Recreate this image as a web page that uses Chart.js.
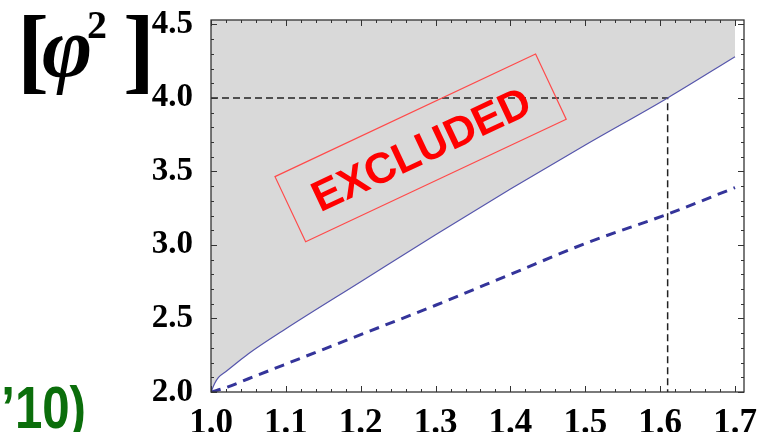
<!DOCTYPE html>
<html>
<head>
<meta charset="utf-8">
<script src="https://cdn.jsdelivr.net/npm/chart.js@4.4.1/dist/chart.umd.min.js"></script>
<style>
  body { margin: 0; background: #fff; }
  #wrap { width: 759px; height: 432px; }
</style>
</head>
<body>
<div id="wrap"><canvas id="chart" width="759" height="432"></canvas></div>
<script>
// boundary of the excluded region (solid line)
var bound_x = [1.0, 1.005, 1.01, 1.02, 1.03, 1.05, 1.1, 1.2, 1.3, 1.4, 1.5, 1.61, 1.7];
var bound_y = [2.0, 2.06, 2.10, 2.14, 2.18, 2.26, 2.43, 2.75, 3.07, 3.38, 3.68, 4.0, 4.28];

// dashed blue curve
var dash_x = [1.0, 1.02, 1.05, 1.1, 1.2, 1.3, 1.4, 1.5, 1.61, 1.7];
var dash_y = [2.0, 2.03, 2.09, 2.19, 2.39, 2.59, 2.80, 3.01, 3.21, 3.39];

// black dashed guide lines (x=1.61, phi^2=4)
var guide_x = [1.0, 1.61, 1.61];
var guide_y = [4.0, 4.0, 2.0];

var x_min = 1.0, x_max = 1.712;
var y_min = 2.0, y_max = 4.53;

// where the "EXCLUDED" stamp sits, in data units
var stamp_x = 1.28, stamp_y = 3.66;
var stamp_text = "EXCLUDED";

function toPoints(xs, ys){
	var pts = [];
	for (var i=0;i<xs.length;i++) {
		pts.push({x: xs[i], y: ys[i]});
	}
	return pts;
}

var serif = '"Liberation Serif", "Times New Roman", serif';
var sans = '"Liberation Sans", Arial, sans-serif';

// Mathematica style frame with inward ticks on all four sides
var framePlugin = {
	id: 'frame',
	afterDraw: function(chart){
		var ctx = chart.ctx;
		var a = chart.chartArea;
		var xs = chart.scales.x, ys = chart.scales.y;
		ctx.save();
		ctx.strokeStyle = '#333';
		ctx.lineWidth = 1.3;
		ctx.strokeRect(a.left, a.top, a.right - a.left, a.bottom - a.top);
		ctx.lineWidth = 1;
		var i, v, px, len;
		for (i=0;i<=40;i++) {
			v = x_min + i*0.02;
			if (v > x_max + 1e-9) break;
			len = (i % 5 == 0) ? 6 : 3;
			px = Math.round(xs.getPixelForValue(v)) + 0.5;
			ctx.beginPath();
			ctx.moveTo(px, a.bottom); ctx.lineTo(px, a.bottom - len);
			ctx.moveTo(px, a.top); ctx.lineTo(px, a.top + len);
			ctx.stroke();
		}
		for (i=0;i<=30;i++) {
			v = y_min + i*0.1;
			if (v > y_max + 1e-9) break;
			len = (i % 5 == 0) ? 6 : 3;
			px = Math.round(ys.getPixelForValue(v)) + 0.5;
			ctx.beginPath();
			ctx.moveTo(a.left, px); ctx.lineTo(a.left + len, px);
			ctx.moveTo(a.right, px); ctx.lineTo(a.right - len, px);
			ctx.stroke();
		}
		ctx.restore();
	}
};

// the red rotated stamp and the loose labels
var labelsPlugin = {
	id: 'labels',
	afterDatasetsDraw: function(chart){
		var ctx = chart.ctx;
		var cx = chart.scales.x.getPixelForValue(stamp_x);
		var cy = chart.scales.y.getPixelForValue(stamp_y);
		ctx.save();
		ctx.translate(cx, cy);
		ctx.rotate(-25.2 * Math.PI / 180);
		ctx.strokeStyle = '#ff4a4a';
		ctx.lineWidth = 1.2;
		ctx.strokeRect(-144, -36, 288, 72);
		ctx.fillStyle = '#ff0000';
		ctx.font = 'bold 43px ' + sans;
		ctx.textAlign = 'center';
		ctx.textBaseline = 'middle';
		ctx.fillText(stamp_text, 0, 4);
		ctx.restore();
	},
	afterDraw: function(chart){
		var ctx = chart.ctx;
		ctx.save();
		ctx.fillStyle = '#000';
		ctx.textBaseline = 'alphabetic';
		ctx.textAlign = 'left';
		ctx.font = 'bold 96px ' + serif;
		ctx.fillText('[', 17, 81);
		ctx.fillText(']', 123, 81);
		ctx.font = 'italic bold 86px ' + serif;
		ctx.fillText('\u03c6', 42, 76);
		ctx.font = 'bold 40px ' + serif;
		ctx.fillText('2', 87, 38);
		// cut-off citation at bottom left
		ctx.fillStyle = '#0b6e0b';
		ctx.font = 'bold 60px ' + sans;
		ctx.textAlign = 'right';
		ctx.translate(86, 428);
		ctx.scale(0.82, 1);
		ctx.fillText('\u201910)', 0, 0);
		ctx.restore();
	}
};

var data = {
	datasets: [
		{
			label: 'bound',
			data: toPoints(bound_x, bound_y),
			borderColor: '#5656ac',
			borderWidth: 1.2,
			backgroundColor: '#d9d9d9',
			fill: 'end',
			pointRadius: 0,
			cubicInterpolationMode: 'monotone'
		},
		{
			label: 'dashed',
			data: toPoints(dash_x, dash_y),
			borderColor: '#34349a',
			borderWidth: 3,
			borderDash: [10, 7],
			fill: false,
			pointRadius: 0,
			cubicInterpolationMode: 'monotone'
		},
		{
			label: 'guide',
			data: toPoints(guide_x, guide_y),
			borderColor: '#222',
			borderWidth: 1.5,
			borderDash: [7, 4],
			fill: false,
			pointRadius: 0,
			tension: 0
		}
	]
};

var mychart = new Chart(document.getElementById('chart'), {
	type: 'line',
	data: data,
	options: {
		responsive: false,
		devicePixelRatio: 1,
		animation: false,
		layout: {padding: {left: 0, right: 15, top: 20, bottom: 0}},
		plugins: {
			legend: {display: false},
			tooltip: {enabled: false},
			filler: {drawTime: 'beforeDatasetsDraw'}
		},
		scales: {
			x: {
				type: 'linear',
				min: x_min,
				max: x_max,
				grid: {display: false},
				border: {display: false},
				afterFit: function(s){
					s.height = 40;
					s.paddingLeft = 0; s.paddingRight = 0;
				},
				ticks: {
					stepSize: 0.1,
					includeBounds: false,
					padding: 3,
					color: '#000',
					maxRotation: 0,
					font: {family: serif, size: 35, weight: 'bold'},
					callback: function(v){ return v.toFixed(1); }
				}
			},
			y: {
				type: 'linear',
				min: y_min,
				max: y_max,
				grid: {display: false},
				border: {display: false},
				afterFit: function(s){
					s.width = 211;
					s.paddingTop = 0; s.paddingBottom = 0;
				},
				ticks: {
					stepSize: 0.5,
					includeBounds: false,
					padding: 10,
					color: '#000',
					font: {family: serif, size: 33, weight: 'bold'},
					callback: function(v){ return v.toFixed(1); }
				}
			}
		}
	},
	plugins: [framePlugin, labelsPlugin]
});
</script>
</body>
</html>
